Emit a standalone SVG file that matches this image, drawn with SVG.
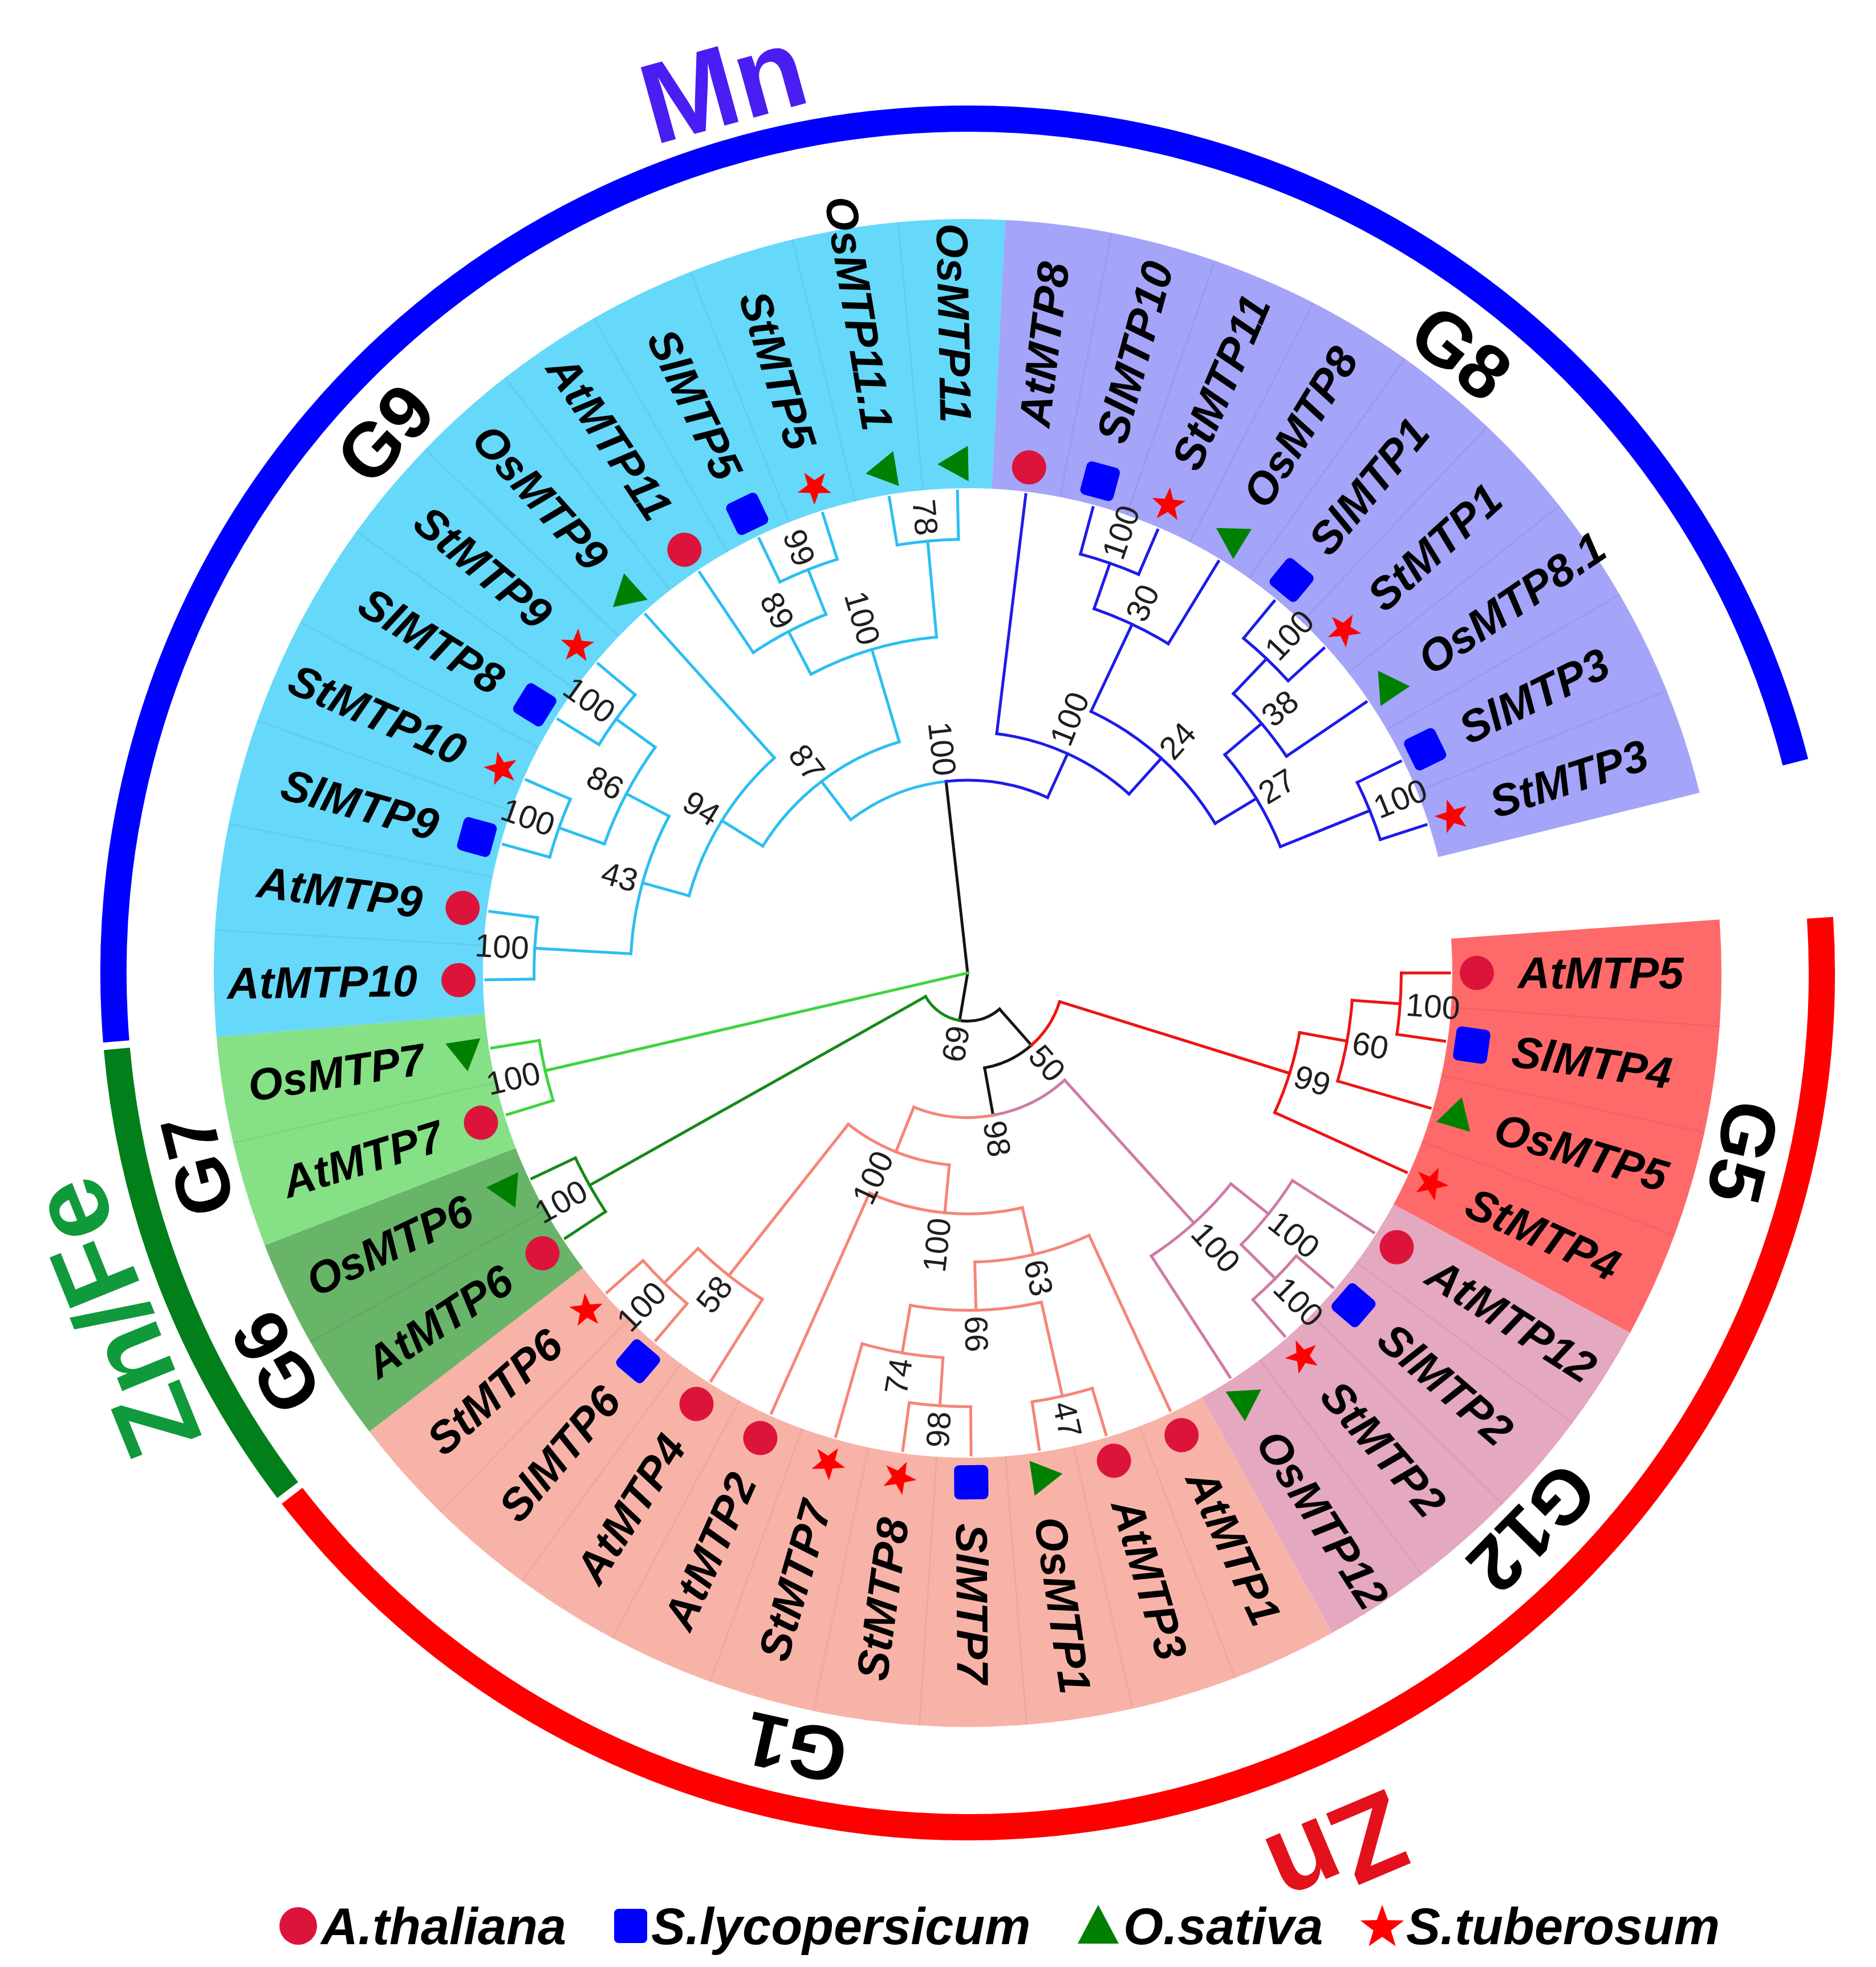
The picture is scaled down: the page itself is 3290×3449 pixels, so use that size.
<svg xmlns="http://www.w3.org/2000/svg" width="3290" height="3449" viewBox="0 0 3290 3449">
<defs>
<style>
text{font-family:"Liberation Sans",Arial,Helvetica,sans-serif}
.lf{font-weight:bold;font-style:italic;font-size:78px;fill:#000;dominant-baseline:central}
.le{text-anchor:end}
.bs{font-size:57px;fill:#1e1e1e;dominant-baseline:central}
.gl{font-weight:bold;font-size:134px;fill:#000;text-anchor:middle;dominant-baseline:central}
.big{font-weight:bold;font-size:200px;text-anchor:middle;dominant-baseline:central}
.lgt{font-weight:bold;font-style:italic;font-size:90px;fill:#000}
.tr path,.tr circle{fill:none;stroke-width:5;stroke-linecap:square}
.k{stroke:#141414}.lb{stroke:#2bbff0}.bl{stroke:#1c1ce8}.lgn{stroke:#3fd33f}.dg{stroke:#168a16}.rd{stroke:#ee1414}.mv{stroke:#cf7aa6}.sa{stroke:#f58577}
.wd{fill:none;stroke-width:472}
.oa{fill:none;stroke-width:46}
.sep path{stroke:#000;stroke-opacity:0.05;stroke-width:3}
</style>
<circle id="mc" r="30" fill="#dc143c"/>
<rect id="ms" x="-30" y="-30" width="60" height="60" rx="9" fill="#0000ff"/>
<path id="mt" d="M0-34L31,20H-31Z" fill="#008000"/>
<path id="mst" d="M0-31L7.35-10.11L29.48-9.58L11.89,3.86L18.22,25.08L0,12.5L-18.22,25.08L-11.89,3.86L-29.48-9.58L-7.35-10.11Z" fill="#ff0000"/>
</defs>
<rect width="3290" height="3449" fill="#ffffff"/>
<g transform="translate(1697,1706)">
<g id="wedges">
<circle class="wd" r="1086" stroke="#a4a4f9" stroke-dasharray="1389.35 99999" transform="rotate(-87.14)"/>
<circle class="wd" r="1086" stroke="#fe6a6a" stroke-dasharray="617.53 99999" transform="rotate(-4.07)"/>
<circle class="wd" r="1086" stroke="#e4a8c0" stroke-dasharray="617.53 99999" transform="rotate(28.51)"/>
<circle class="wd" r="1086" stroke="#f8b3a8" stroke-dasharray="1543.83 99999" transform="rotate(61.09)"/>
<circle class="wd" r="1086" stroke="#68b468" stroke-dasharray="308.77 99999" transform="rotate(142.54)"/>
<circle class="wd" r="1086" stroke="#86e086" stroke-dasharray="308.77 99999" transform="rotate(158.83)"/>
<circle class="wd" r="1086" stroke="#66d8fa" stroke-dasharray="1852.61 99999" transform="rotate(175.12)"/>
</g>
<g class="sep">
<path d="M0-850V-1322" transform="rotate(11)"/><path d="M0-850V-1322" transform="rotate(19.15)"/><path d="M0-850V-1322" transform="rotate(27.29)"/><path d="M0-850V-1322" transform="rotate(35.44)"/><path d="M0-850V-1322" transform="rotate(43.58)"/><path d="M0-850V-1322" transform="rotate(51.73)"/><path d="M0-850V-1322" transform="rotate(59.87)"/><path d="M0-850V-1322" transform="rotate(68.02)"/>
<path d="M0-850V-1322" transform="rotate(94.07)"/><path d="M0-850V-1322" transform="rotate(102.22)"/><path d="M0-850V-1322" transform="rotate(110.36)"/>
<path d="M0-850V-1322" transform="rotate(126.65)"/><path d="M0-850V-1322" transform="rotate(134.8)"/><path d="M0-850V-1322" transform="rotate(142.94)"/>
<path d="M0-850V-1322" transform="rotate(159.23)"/><path d="M0-850V-1322" transform="rotate(167.38)"/><path d="M0-850V-1322" transform="rotate(175.52)"/><path d="M0-850V-1322" transform="rotate(183.67)"/><path d="M0-850V-1322" transform="rotate(191.81)"/><path d="M0-850V-1322" transform="rotate(199.96)"/><path d="M0-850V-1322" transform="rotate(208.1)"/><path d="M0-850V-1322" transform="rotate(216.25)"/><path d="M0-850V-1322" transform="rotate(224.39)"/>
<path d="M0-850V-1322" transform="rotate(240.68)"/><path d="M0-850V-1322" transform="rotate(256.97)"/>
<path d="M0-850V-1322" transform="rotate(273.26)"/><path d="M0-850V-1322" transform="rotate(281.41)"/><path d="M0-850V-1322" transform="rotate(289.55)"/><path d="M0-850V-1322" transform="rotate(297.7)"/><path d="M0-850V-1322" transform="rotate(305.84)"/><path d="M0-850V-1322" transform="rotate(313.99)"/><path d="M0-850V-1322" transform="rotate(322.13)"/><path d="M0-850V-1322" transform="rotate(330.28)"/><path d="M0-850V-1322" transform="rotate(338.42)"/><path d="M0-850V-1322" transform="rotate(346.57)"/><path d="M0-850V-1322" transform="rotate(354.71)"/>
</g>
<g id="outer-arcs">
<circle class="oa" r="1498" stroke="#0000ff" stroke-dasharray="4452.5 99999" transform="rotate(175.4)"/>
<circle class="oa" r="1498" stroke="#ff0000" stroke-dasharray="3815.9 99999" transform="rotate(-3.7)"/>
<circle class="oa" r="1498" stroke="#007f1a" stroke-dasharray="840.6 99999" transform="rotate(142.75)"/>
</g>
<g id="connectors" class="tr">
<path class="k" d="M0,0V-338" transform="rotate(353.57)"/>
<path class="k" d="M0,0V-84.5" transform="rotate(189.63)"/>
<path class="k" d="M0-84.5V-169" transform="rotate(138.58)"/>
<path class="k" d="M0-169V-253.5" transform="rotate(169.86)"/>
<circle class="k" r="84.5" stroke-dasharray="75.29 9999" transform="rotate(48.58)"/>
<circle class="k" r="169" stroke-dasharray="92.26 9999" transform="rotate(48.58)"/>
<path class="lgn" d="M0,0V-760.5" transform="rotate(256.97)"/>
<circle class="lgn" r="760.5" stroke-dasharray="108.11 9999" transform="rotate(162.9)"/>
<path class="lgn" d="M0-760.5V-845" transform="rotate(252.9)"/>
<path class="lgn" d="M0-760.5V-845" transform="rotate(261.045)"/>
<circle class="dg" r="84.5" stroke-dasharray="75.29 9999" transform="rotate(99.63)"/>
<path class="dg" d="M0-84.5V-760.5" transform="rotate(240.68)"/>
<circle class="dg" r="760.5" stroke-dasharray="108.11 9999" transform="rotate(146.61)"/>
<path class="dg" d="M0-760.5V-845" transform="rotate(236.61)"/>
<path class="dg" d="M0-760.5V-845" transform="rotate(244.755)"/>
<circle class="rd" r="169" stroke-dasharray="92.23 9999" transform="rotate(17.31)"/>
<path class="rd" d="M0-169V-591.5" transform="rotate(107.31)"/>
<circle class="rd" r="591.5" stroke-dasharray="147.16 9999" transform="rotate(10.18)"/>
<path class="rd" d="M0-591.5V-676" transform="rotate(100.18)"/>
<path class="rd" d="M0-591.5V-845" transform="rotate(114.435)"/>
<circle class="rd" r="676" stroke-dasharray="144.18 9999" transform="rotate(4.07)"/>
<path class="rd" d="M0-676V-760.5" transform="rotate(94.07)"/>
<path class="rd" d="M0-676V-845" transform="rotate(106.29)"/>
<circle class="rd" r="760.5" stroke-dasharray="108.11 9999" transform="rotate(0)"/>
<path class="rd" d="M0-760.5V-845" transform="rotate(90)"/>
<path class="rd" d="M0-760.5V-845" transform="rotate(98.145)"/>
<circle class="mv" r="253.5" stroke-dasharray="141.63 9999" transform="rotate(47.85)"/>
<path class="mv" d="M0-253.5V-591.5" transform="rotate(137.85)"/>
<circle class="mv" r="591.5" stroke-dasharray="189.18 9999" transform="rotate(38.69)"/>
<path class="mv" d="M0-591.5V-676" transform="rotate(128.69)"/>
<path class="mv" d="M0-591.5V-845" transform="rotate(147.015)"/>
<circle class="mv" r="676" stroke-dasharray="144.18 9999" transform="rotate(32.58)"/>
<path class="mv" d="M0-676V-845" transform="rotate(122.58)"/>
<path class="mv" d="M0-676V-760.5" transform="rotate(134.8)"/>
<circle class="mv" r="760.5" stroke-dasharray="108.11 9999" transform="rotate(40.725)"/>
<path class="mv" d="M0-760.5V-845" transform="rotate(130.725)"/>
<path class="mv" d="M0-760.5V-845" transform="rotate(138.87)"/>
<circle class="sa" r="253.5" stroke-dasharray="141.63 9999" transform="rotate(79.86)"/>
<path class="sa" d="M0-253.5V-338" transform="rotate(201.87)"/>
<circle class="sa" r="338" stroke-dasharray="193.67 9999" transform="rotate(95.45)"/>
<path class="sa" d="M0-338V-422.5" transform="rotate(185.45)"/>
<path class="sa" d="M0-338V-676" transform="rotate(218.28)"/>
<circle class="sa" r="676" stroke-dasharray="144.12 9999" transform="rotate(122.175)"/>
<path class="sa" d="M0-676V-845" transform="rotate(212.175)"/>
<path class="sa" d="M0-676V-760.5" transform="rotate(224.39)"/>
<circle class="sa" r="760.5" stroke-dasharray="108.11 9999" transform="rotate(130.32)"/>
<path class="sa" d="M0-760.5V-845" transform="rotate(220.32)"/>
<path class="sa" d="M0-760.5V-845" transform="rotate(228.465)"/>
<circle class="sa" r="422.5" stroke-dasharray="274.02 9999" transform="rotate(76.87)"/>
<path class="sa" d="M0-422.5V-507" transform="rotate(166.87)"/>
<path class="sa" d="M0-422.5V-845" transform="rotate(204.03)"/>
<circle class="sa" r="507" stroke-dasharray="207.24 9999" transform="rotate(65.16)"/>
<path class="sa" d="M0-507V-845" transform="rotate(155.16)"/>
<path class="sa" d="M0-507V-591.5" transform="rotate(178.58)"/>
<circle class="sa" r="591.5" stroke-dasharray="231.25 9999" transform="rotate(77.38)"/>
<path class="sa" d="M0-591.5V-760.5" transform="rotate(167.38)"/>
<path class="sa" d="M0-591.5V-676" transform="rotate(189.78)"/>
<circle class="sa" r="760.5" stroke-dasharray="108.11 9999" transform="rotate(73.305)"/>
<path class="sa" d="M0-760.5V-845" transform="rotate(163.305)"/>
<path class="sa" d="M0-760.5V-845" transform="rotate(171.45)"/>
<circle class="sa" r="676" stroke-dasharray="144.12 9999" transform="rotate(93.67)"/>
<path class="sa" d="M0-676V-760.5" transform="rotate(183.67)"/>
<path class="sa" d="M0-676V-845" transform="rotate(195.885)"/>
<circle class="sa" r="760.5" stroke-dasharray="108.11 9999" transform="rotate(89.595)"/>
<path class="sa" d="M0-760.5V-845" transform="rotate(179.595)"/>
<path class="sa" d="M0-760.5V-845" transform="rotate(187.74)"/>
<circle class="lb" r="338" stroke-dasharray="182.46 9999" transform="rotate(232.64)"/>
<path class="lb" d="M0-338V-422.5" transform="rotate(322.64)"/>
<circle class="lb" r="422.5" stroke-dasharray="307.79 9999" transform="rotate(211.77)"/>
<path class="lb" d="M0-422.5V-507" transform="rotate(301.77)"/>
<path class="lb" d="M0-422.5V-591.5" transform="rotate(343.51)"/>
<circle class="lb" r="507" stroke-dasharray="288.29 9999" transform="rotate(195.48)"/>
<path class="lb" d="M0-507V-591.5" transform="rotate(285.48)"/>
<path class="lb" d="M0-507V-845" transform="rotate(318.06)"/>
<circle class="lb" r="591.5" stroke-dasharray="252.31 9999" transform="rotate(183.26)"/>
<path class="lb" d="M0-591.5V-760.5" transform="rotate(273.26)"/>
<path class="lb" d="M0-591.5V-676" transform="rotate(297.7)"/>
<circle class="lb" r="676" stroke-dasharray="192.2 9999" transform="rotate(199.55)"/>
<path class="lb" d="M0-676V-760.5" transform="rotate(289.55)"/>
<path class="lb" d="M0-676V-760.5" transform="rotate(305.84)"/>
<circle class="lb" r="760.5" stroke-dasharray="108.11 9999" transform="rotate(195.48)"/>
<path class="lb" d="M0-760.5V-845" transform="rotate(285.48)"/>
<path class="lb" d="M0-760.5V-845" transform="rotate(293.625)"/>
<circle class="lb" r="760.5" stroke-dasharray="108.11 9999" transform="rotate(211.77)"/>
<path class="lb" d="M0-760.5V-845" transform="rotate(301.77)"/>
<path class="lb" d="M0-760.5V-845" transform="rotate(309.915)"/>
<circle class="lb" r="760.5" stroke-dasharray="108.11 9999" transform="rotate(179.19)"/>
<path class="lb" d="M0-760.5V-845" transform="rotate(269.19)"/>
<path class="lb" d="M0-760.5V-845" transform="rotate(277.335)"/>
<circle class="lb" r="591.5" stroke-dasharray="231.25 9999" transform="rotate(242.31)"/>
<path class="lb" d="M0-591.5V-676" transform="rotate(332.31)"/>
<path class="lb" d="M0-591.5V-760.5" transform="rotate(354.71)"/>
<circle class="lb" r="676" stroke-dasharray="144.12 9999" transform="rotate(236.205)"/>
<path class="lb" d="M0-676V-845" transform="rotate(326.205)"/>
<path class="lb" d="M0-676V-760.5" transform="rotate(338.42)"/>
<circle class="lb" r="760.5" stroke-dasharray="108.11 9999" transform="rotate(244.35)"/>
<path class="lb" d="M0-760.5V-845" transform="rotate(334.35)"/>
<path class="lb" d="M0-760.5V-845" transform="rotate(342.495)"/>
<circle class="lb" r="760.5" stroke-dasharray="108.11 9999" transform="rotate(260.64)"/>
<path class="lb" d="M0-760.5V-845" transform="rotate(350.64)"/>
<path class="lb" d="M0-760.5V-845" transform="rotate(358.785)"/>
<circle class="bl" r="338" stroke-dasharray="182.46 9999" transform="rotate(263.57)"/>
<path class="bl" d="M0-338V-422.5" transform="rotate(24.5)"/>
<circle class="bl" r="422.5" stroke-dasharray="259.05 9999" transform="rotate(-83.07)"/>
<path class="bl" d="M0-422.5V-845" transform="rotate(6.93)"/>
<path class="bl" d="M0-422.5V-507" transform="rotate(42.06)"/>
<circle class="bl" r="507" stroke-dasharray="297.28 9999" transform="rotate(-64.74)"/>
<path class="bl" d="M0-507V-676" transform="rotate(25.26)"/>
<path class="bl" d="M0-507V-591.5" transform="rotate(58.855)"/>
<circle class="bl" r="676" stroke-dasharray="144.12 9999" transform="rotate(-70.85)"/>
<path class="bl" d="M0-676V-760.5" transform="rotate(19.15)"/>
<path class="bl" d="M0-676V-845" transform="rotate(31.365)"/>
<circle class="bl" r="760.5" stroke-dasharray="108.11 9999" transform="rotate(-74.925)"/>
<path class="bl" d="M0-760.5V-845" transform="rotate(15.075)"/>
<path class="bl" d="M0-760.5V-845" transform="rotate(23.22)"/>
<circle class="bl" r="591.5" stroke-dasharray="189.23 9999" transform="rotate(-40.31)"/>
<path class="bl" d="M0-591.5V-676" transform="rotate(49.69)"/>
<path class="bl" d="M0-591.5V-760.5" transform="rotate(68.02)"/>
<circle class="bl" r="676" stroke-dasharray="144.18 9999" transform="rotate(-46.42)"/>
<path class="bl" d="M0-676V-760.5" transform="rotate(43.58)"/>
<path class="bl" d="M0-676V-845" transform="rotate(55.8)"/>
<circle class="bl" r="760.5" stroke-dasharray="108.11 9999" transform="rotate(-50.49)"/>
<path class="bl" d="M0-760.5V-845" transform="rotate(39.51)"/>
<path class="bl" d="M0-760.5V-845" transform="rotate(47.655)"/>
<circle class="bl" r="760.5" stroke-dasharray="108.11 9999" transform="rotate(-26.055)"/>
<path class="bl" d="M0-760.5V-845" transform="rotate(63.945)"/>
<path class="bl" d="M0-760.5V-845" transform="rotate(72.09)"/>
</g>
<g id="bootstrap">
<text class="bs le" transform="rotate(83.57)" x="-348">100</text>
<text class="bs le" transform="rotate(52.64)" x="-432.5">87</text>
<text class="bs le" transform="rotate(31.77)" x="-517">94</text>
<text class="bs le" transform="rotate(15.48)" x="-601.5">43</text>
<text class="bs le" transform="rotate(27.7)" x="-686">86</text>
<text class="bs le" transform="rotate(19.55)" x="-770.5">100</text>
<text class="bs le" transform="rotate(35.84)" x="-770.5">100</text>
<text class="bs le" transform="rotate(3.26)" x="-770.5">100</text>
<text class="bs le" transform="rotate(73.51)" x="-601.5">100</text>
<text class="bs le" transform="rotate(62.31)" x="-686">89</text>
<text class="bs le" transform="rotate(68.42)" x="-770.5">99</text>
<text class="bs le" transform="rotate(84.71)" x="-770.5">78</text>
<text class="bs le" transform="rotate(-13.03)" x="-770.5">100</text>
<text class="bs le" transform="rotate(-29.32)" x="-770.5">100</text>
<text class="bs le" transform="rotate(-80.37)" x="-94.5">69</text>
<text class="bs le" transform="rotate(-65.1)" x="-348">100</text>
<text class="bs le" transform="rotate(-83.5)" x="-432.5">100</text>
<text class="bs le" transform="rotate(-51.72)" x="-686">58</text>
<text class="bs le" transform="rotate(-45.61)" x="-770.5">100</text>
<text class="bs le" transform="rotate(-80.22)" x="-686">74</text>
<text class="bs le" transform="rotate(-86.33)" x="-770.5">98</text>
<text class="bs" transform="rotate(88.58)" x="601.5">66</text>
<text class="bs" transform="rotate(-68.2)" x="432.5">100</text>
<text class="bs" transform="rotate(-47.94)" x="517">24</text>
<text class="bs" transform="rotate(-64.74)" x="686">30</text>
<text class="bs" transform="rotate(-70.85)" x="770.5">100</text>
<text class="bs" transform="rotate(-31.145)" x="601.5">27</text>
<text class="bs" transform="rotate(-40.31)" x="686">38</text>
<text class="bs" transform="rotate(-46.42)" x="770.5">100</text>
<text class="bs" transform="rotate(-21.98)" x="770.5">100</text>
<text class="bs" transform="rotate(48.58)" x="179">50</text>
<text class="bs" transform="rotate(79.86)" x="263.5">98</text>
<text class="bs" transform="rotate(17.31)" x="601.5">99</text>
<text class="bs" transform="rotate(10.18)" x="686">60</text>
<text class="bs" transform="rotate(4.07)" x="770.5">100</text>
<text class="bs" transform="rotate(47.85)" x="601.5">100</text>
<text class="bs" transform="rotate(38.69)" x="686">100</text>
<text class="bs" transform="rotate(44.8)" x="770.5">100</text>
<text class="bs" transform="rotate(76.87)" x="517">63</text>
<text class="bs" transform="rotate(77.38)" x="770.5">47</text>
</g>
<g id="leaves">
<g id="leaf-AtMTP8"><use href="#mc" transform="rotate(-83.07) translate(893,0)"/><text class="lf" transform="rotate(-83.07)" x="965">AtMTP8</text></g>
<g id="leaf-SlMTP10"><use href="#ms" transform="rotate(-74.925) translate(893,0)"/><text class="lf" transform="rotate(-74.925)" x="965">SlMTP10</text></g>
<g id="leaf-StMTP11"><use href="#mst" transform="rotate(-66.78) translate(893,0)"/><text class="lf" transform="rotate(-66.78)" x="965">StMTP11</text></g>
<g id="leaf-OsMTP8"><use href="#mt" transform="rotate(-58.635) translate(893,0)"/><text class="lf" transform="rotate(-58.635)" x="965">OsMTP8</text></g>
<g id="leaf-SlMTP1"><use href="#ms" transform="rotate(-50.49) translate(893,0)"/><text class="lf" transform="rotate(-50.49)" x="965">SlMTP1</text></g>
<g id="leaf-StMTP1"><use href="#mst" transform="rotate(-42.345) translate(893,0)"/><text class="lf" transform="rotate(-42.345)" x="965">StMTP1</text></g>
<g id="leaf-OsMTP8.1"><use href="#mt" transform="rotate(-34.2) translate(893,0)"/><text class="lf" transform="rotate(-34.2)" x="965">OsMTP8.1</text></g>
<g id="leaf-SlMTP3"><use href="#ms" transform="rotate(-26.055) translate(893,0)"/><text class="lf" transform="rotate(-26.055)" x="965">SlMTP3</text></g>
<g id="leaf-StMTP3"><use href="#mst" transform="rotate(-17.91) translate(893,0)"/><text class="lf" transform="rotate(-17.91)" x="965">StMTP3</text></g>
<g id="leaf-AtMTP5"><use href="#mc" transform="rotate(0) translate(893,0)"/><text class="lf" transform="rotate(0)" x="965">AtMTP5</text></g>
<g id="leaf-SlMTP4"><use href="#ms" transform="rotate(8.145) translate(893,0)"/><text class="lf" transform="rotate(8.145)" x="965">SlMTP4</text></g>
<g id="leaf-OsMTP5"><use href="#mt" transform="rotate(16.29) translate(893,0)"/><text class="lf" transform="rotate(16.29)" x="965">OsMTP5</text></g>
<g id="leaf-StMTP4"><use href="#mst" transform="rotate(24.435) translate(893,0)"/><text class="lf" transform="rotate(24.435)" x="965">StMTP4</text></g>
<g id="leaf-AtMTP12"><use href="#mc" transform="rotate(32.58) translate(893,0)"/><text class="lf" transform="rotate(32.58)" x="965">AtMTP12</text></g>
<g id="leaf-SlMTP2"><use href="#ms" transform="rotate(40.725) translate(893,0)"/><text class="lf" transform="rotate(40.725)" x="965">SlMTP2</text></g>
<g id="leaf-StMTP2"><use href="#mst" transform="rotate(48.87) translate(893,0)"/><text class="lf" transform="rotate(48.87)" x="965">StMTP2</text></g>
<g id="leaf-OsMTP12"><use href="#mt" transform="rotate(57.015) translate(893,0)"/><text class="lf" transform="rotate(57.015)" x="965">OsMTP12</text></g>
<g id="leaf-AtMTP1"><use href="#mc" transform="rotate(65.16) translate(893,0)"/><text class="lf" transform="rotate(65.16)" x="965">AtMTP1</text></g>
<g id="leaf-AtMTP3"><use href="#mc" transform="rotate(73.305) translate(893,0)"/><text class="lf" transform="rotate(73.305)" x="965">AtMTP3</text></g>
<g id="leaf-OsMTP1"><use href="#mt" transform="rotate(81.45) translate(893,0)"/><text class="lf" transform="rotate(81.45)" x="965">OsMTP1</text></g>
<g id="leaf-SlMTP7"><use href="#ms" transform="rotate(89.595) translate(893,0)"/><text class="lf" transform="rotate(89.595)" x="965">SlMTP7</text></g>
<g id="leaf-StMTP8"><use href="#mst" transform="rotate(97.74) translate(893,0)"/><text class="lf le" transform="rotate(-82.26)" x="-965">StMTP8</text></g>
<g id="leaf-StMTP7"><use href="#mst" transform="rotate(105.885) translate(893,0)"/><text class="lf le" transform="rotate(-74.115)" x="-965">StMTP7</text></g>
<g id="leaf-AtMTP2"><use href="#mc" transform="rotate(114.03) translate(893,0)"/><text class="lf le" transform="rotate(-65.97)" x="-965">AtMTP2</text></g>
<g id="leaf-AtMTP4"><use href="#mc" transform="rotate(122.175) translate(893,0)"/><text class="lf le" transform="rotate(-57.825)" x="-965">AtMTP4</text></g>
<g id="leaf-SlMTP6"><use href="#ms" transform="rotate(130.32) translate(893,0)"/><text class="lf le" transform="rotate(-49.68)" x="-965">SlMTP6</text></g>
<g id="leaf-StMTP6"><use href="#mst" transform="rotate(138.465) translate(893,0)"/><text class="lf le" transform="rotate(-41.535)" x="-965">StMTP6</text></g>
<g id="leaf-AtMTP6"><use href="#mc" transform="rotate(146.61) translate(893,0)"/><text class="lf le" transform="rotate(-33.39)" x="-965">AtMTP6</text></g>
<g id="leaf-OsMTP6"><use href="#mt" transform="rotate(154.755) translate(893,0)"/><text class="lf le" transform="rotate(-25.245)" x="-965">OsMTP6</text></g>
<g id="leaf-AtMTP7"><use href="#mc" transform="rotate(162.9) translate(893,0)"/><text class="lf le" transform="rotate(-17.1)" x="-965">AtMTP7</text></g>
<g id="leaf-OsMTP7"><use href="#mt" transform="rotate(171.045) translate(893,0)"/><text class="lf le" transform="rotate(-8.955)" x="-965">OsMTP7</text></g>
<g id="leaf-AtMTP10"><use href="#mc" transform="rotate(179.19) translate(893,0)"/><text class="lf le" transform="rotate(-0.81)" x="-965">AtMTP10</text></g>
<g id="leaf-AtMTP9"><use href="#mc" transform="rotate(187.335) translate(893,0)"/><text class="lf le" transform="rotate(7.335)" x="-965">AtMTP9</text></g>
<g id="leaf-SlMTP9"><use href="#ms" transform="rotate(195.48) translate(893,0)"/><text class="lf le" transform="rotate(15.48)" x="-965">SlMTP9</text></g>
<g id="leaf-StMTP10"><use href="#mst" transform="rotate(203.625) translate(893,0)"/><text class="lf le" transform="rotate(23.625)" x="-965">StMTP10</text></g>
<g id="leaf-SlMTP8"><use href="#ms" transform="rotate(211.77) translate(893,0)"/><text class="lf le" transform="rotate(31.77)" x="-965">SlMTP8</text></g>
<g id="leaf-StMTP9"><use href="#mst" transform="rotate(219.915) translate(893,0)"/><text class="lf le" transform="rotate(39.915)" x="-965">StMTP9</text></g>
<g id="leaf-OsMTP9"><use href="#mt" transform="rotate(228.06) translate(893,0)"/><text class="lf le" transform="rotate(48.06)" x="-965">OsMTP9</text></g>
<g id="leaf-AtMTP11"><use href="#mc" transform="rotate(236.205) translate(893,0)"/><text class="lf le" transform="rotate(56.205)" x="-965">AtMTP11</text></g>
<g id="leaf-SlMTP5"><use href="#ms" transform="rotate(244.35) translate(893,0)"/><text class="lf le" transform="rotate(64.35)" x="-965">SlMTP5</text></g>
<g id="leaf-StMTP5"><use href="#mst" transform="rotate(252.495) translate(893,0)"/><text class="lf le" transform="rotate(72.495)" x="-965">StMTP5</text></g>
<g id="leaf-OsMTP11.1"><use href="#mt" transform="rotate(260.64) translate(893,0)"/><text class="lf le" transform="rotate(80.64)" x="-965">OsMTP11.1</text></g>
<g id="leaf-OsMTP11"><use href="#mt" transform="rotate(268.785) translate(893,0)"/><text class="lf le" transform="rotate(88.785)" x="-965">OsMTP11</text></g>
</g>
<g id="group-labels">
<text class="gl" transform="rotate(38.5) translate(0,-1390)">G8</text>
<text class="gl" transform="rotate(312.8) translate(0,-1392)">G9</text>
<text class="gl" transform="rotate(256) translate(0,-1392)">G7</text>
<text class="gl" transform="rotate(240.6) translate(0,-1392)">G6</text>
<text class="gl" transform="rotate(103) translate(0,-1396)">G5</text>
<text class="gl" transform="rotate(134.5) translate(0,-1388)">G12</text>
<text class="gl" transform="rotate(192.5) translate(0,-1392)">G1</text>
<text class="big" fill="#4a1df2" transform="rotate(344.6) translate(0,-1615)">Mn</text>
<text class="big" fill="#e3111b" transform="rotate(157.1) translate(0,-1672)">Zn</text>
<text class="big" fill="#109a3c" style="font-size:190px" transform="rotate(248) translate(0,-1615)">Zn/Fe</text>
</g>
</g>
<g id="legend">
<circle cx="523" cy="3377" r="33" fill="#dc143c"/>
<text class="lgt" x="563" y="3409">A.thaliana</text>
<rect x="1077" y="3347" width="58" height="60" rx="8" fill="#0000ff"/>
<text class="lgt" x="1142" y="3409">S.lycopersicum</text>
<path d="M1926,3340L1962,3408H1890Z" fill="#008000"/>
<text class="lgt" x="1970" y="3409">O.sativa</text>
<path d="M0-31L7.35-10.11L29.48-9.58L11.89,3.86L18.22,25.08L0,12.5L-18.22,25.08L-11.89,3.86L-29.48-9.58L-7.35-10.11Z" fill="#ff0000" transform="translate(2424,3380) scale(1.3)"/>
<text class="lgt" x="2466" y="3409">S.tuberosum</text>
</g>
</svg>
